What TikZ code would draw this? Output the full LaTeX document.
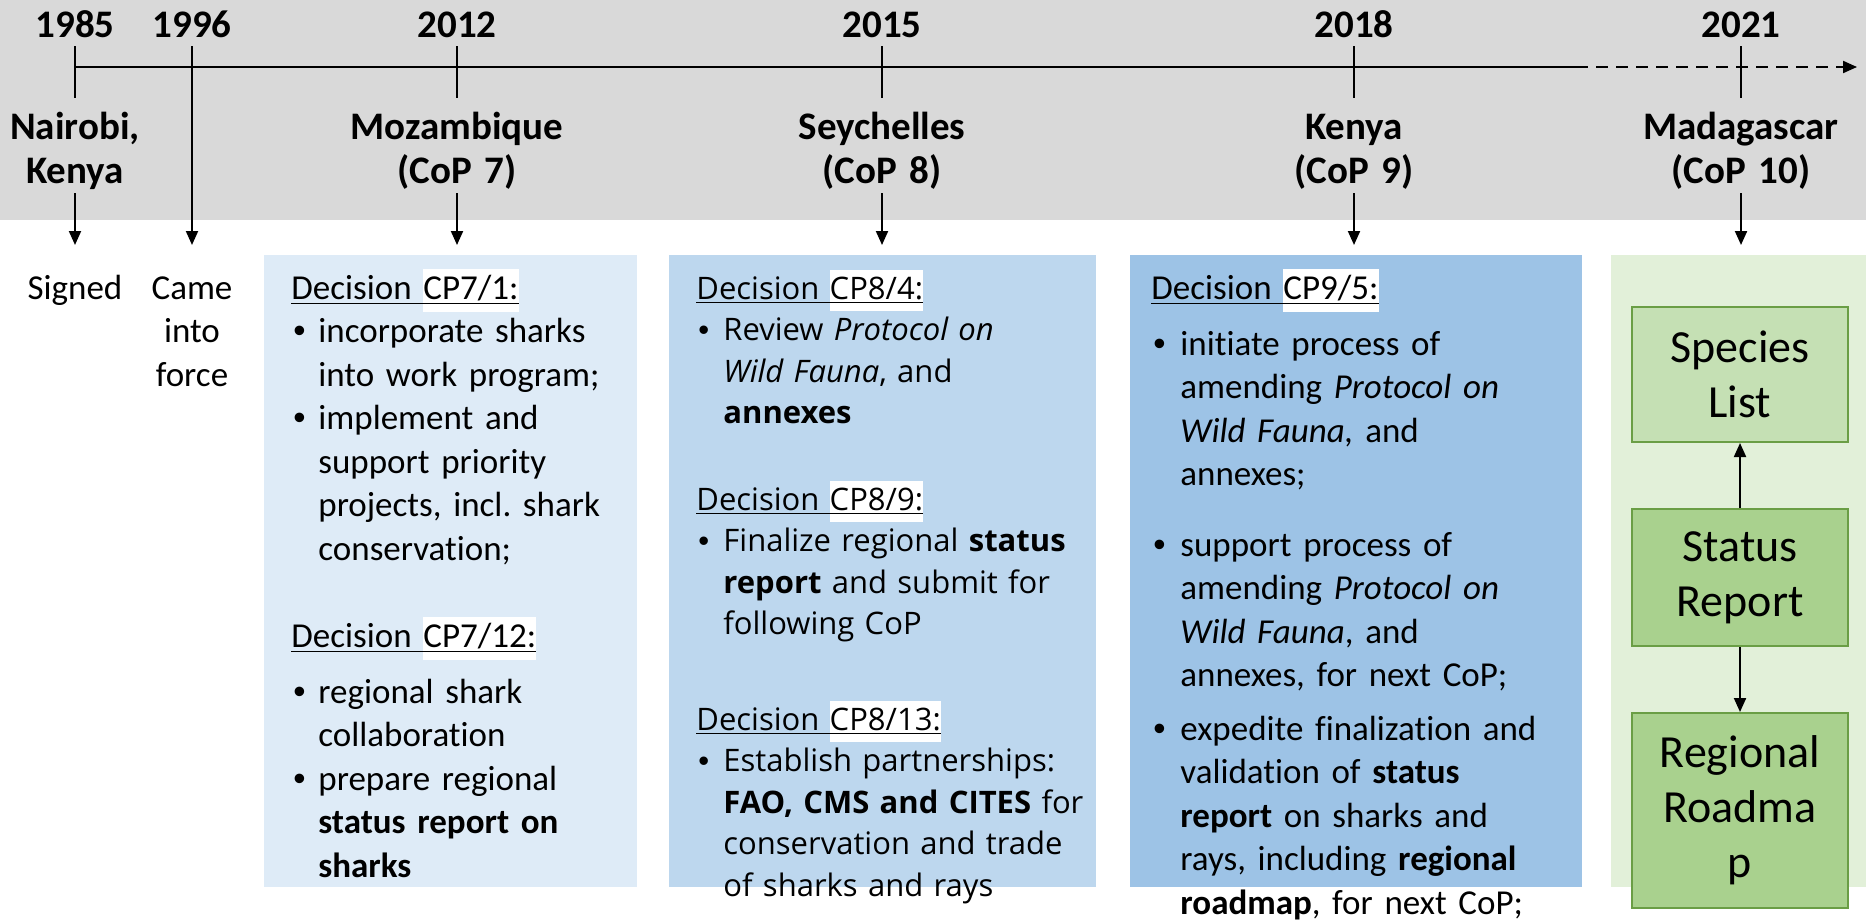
\documentclass[tikz,border=0pt]{standalone}
\usepackage{fontspec}
\setmainfont{Carlito}[Ligatures=NoCommon,Contextuals=NoAlternate]
\newfontfamily\opensans{Open Sans}
\newfontfamily\arial{Liberation Sans}
\usepackage{xcolor}
\usetikzlibrary{arrows.meta}

\definecolor{band}{HTML}{D9D9D9}
\definecolor{blueA}{HTML}{DEEBF7}
\definecolor{blueB}{HTML}{BDD7EE}
\definecolor{blueC}{HTML}{9DC3E6}
\definecolor{greenbg}{HTML}{E2F0D9}
\definecolor{greenA}{HTML}{C5E0B4}
\definecolor{greenB}{HTML}{A9D18E}
\definecolor{greenline}{HTML}{6A9E45}

% bullet with hanging indent, and the underlined decision heading
\newlength{\bulind}
\newcommand{\bul}{\hangindent=\bulind\hangafter=1\noindent\makebox[\bulind][l]{\hspace{1pt}{\arial\textbullet}}}
\newcommand{\decis}[1]{\makebox[0pt][l]{\phantom{Decision }{\setlength{\fboxsep}{0pt}\colorbox{white}{\strut\phantom{#1}}}}\underline{Decision #1}}
\frenchspacing

\begin{document}
\begin{tikzpicture}[x=0.5pt,y=-0.5pt,
    year/.style={font=\fontsize{19.5pt}{22pt}\selectfont\bfseries,anchor=base,inner sep=0},
    place/.style={year,text width=140pt,align=center},
    body/.style={font=\fontsize{17.5pt}{21.75pt}\selectfont,inner sep=0},
    dec/.style={body,anchor=base west,text width=220pt,align=left},
    flow/.style={draw=greenline,line width=1pt,minimum width=108pt,text width=100pt,
      align=center,inner sep=0,font=\fontsize{23pt}{27.5pt}\selectfont},
    link/.style={line width=1pt,-{Triangle[width=6pt,length=7pt]}}]
  \useasboundingbox (0,0) rectangle (1866,921);

  % grey band and time axis
  \fill[band] (0,0) rectangle (1866,220);
  \coordinate (t0) at (75,67);
  \coordinate (tdash) at (1576,67);
  \coordinate (tend) at (1857,67);
  \draw[line width=1pt] (t0) -- (tdash);
  \draw[link,dash pattern=on 6pt off 4pt] (tdash) -- (tend);

  \foreach \n/\x/\yr in {85/75/1985, 12/457/2012, 15/882/2015, 18/1354/2018, 21/1741/2021}{
    \node[year] (y\n) at (\x,37) {\yr};
    \draw[line width=0.75pt] (\x,46) -- (\x,98);
    \coordinate (a\n) at (\x,193);
    \coordinate (b\n) at (\x,245);
    \draw[link] (a\n) -- (b\n);
  }
  \node[year] (y96) at (192,37) {1996};
  \coordinate (a96) at (192,46);
  \coordinate (b96) at (192,245);
  \draw[link] (a96) -- (b96);

  \node[place] (p85) at (75,139) {Nairobi,\\Kenya};
  \node[place] (p12) at (457,139) {Mozambique\\(CoP 7)};
  \node[place] (p15) at (882,139) {Seychelles\\(CoP 8)};
  \node[place] (p18) at (1354,139) {Kenya\\(CoP 9)};
  \node[place] (p21) at (1741,139) {Madagascar\\(CoP 10)};

  % coloured panels
  \fill[blueA] (264,255) rectangle (637,887);
  \fill[blueB] (669,255) rectangle (1096,887);
  \fill[blueC] (1130,255) rectangle (1582,887);
  \fill[greenbg] (1611,255) rectangle (1866,887);

  \node[body,anchor=base,text width=60pt,align=center] (signed) at (75,299) {Signed};
  \node[body,anchor=base,text width=60pt,align=center] (force) at (192,299) {Came\\into\\force};

  \node[dec] (cp7) at (291,299) {\setlength{\bulind}{13.5pt}%
    \decis{CP7/1:}\par
    \bul incorporate sharks\newline into work program;\par
    \bul implement and\newline support priority\newline projects, incl. shark\newline conservation;\par
    \vspace{21.75pt}
    \decis{CP7/12:}\par
    \vspace{6.25pt}
    \bul regional shark\newline collaboration\par
    \bul prepare regional\newline \textbf{status report on}\newline \textbf{sharks}\par};

  \node[dec,font=\opensans\fontsize{15.5pt}{20.75pt}\selectfont] (cp8) at (696,299) {\setlength{\bulind}{13.5pt}%
    \decis{CP8/4:}\par
    \bul Review \textit{Protocol on}\newline \textit{Wild Fauna}, and\newline \textbf{annexes}\par
    \vspace{22.5pt}
    \decis{CP8/9:}\par
    \bul Finalize regional \textbf{status}\newline \textbf{report} and submit for\newline following CoP\par
    \vspace{27pt}
    \decis{CP8/13:}\par
    \bul Establish partnerships:\newline \textbf{FAO, CMS and CITES} for\newline conservation and trade\newline of sharks and rays\par};

  \node[dec] (cp9) at (1151,299) {\setlength{\bulind}{14.5pt}%
    \decis{CP9/5:}\par
    \vspace{6.25pt}
    \bul initiate process of\newline amending \textit{Protocol on}\newline \textit{Wild Fauna,} and\newline annexes;\par
    \vspace{13.5pt}
    \bul support process of\newline amending \textit{Protocol on}\newline \textit{Wild Fauna}, and\newline annexes, for next CoP;\par
    \vspace{5pt}
    \bul expedite finalization and\newline validation of \textbf{status}\newline \textbf{report} on sharks and\newline rays, including \textbf{regional}\newline \textbf{roadmap}, for next CoP;\par};

  % outputs for CoP 10
  \node[flow,fill=greenA,minimum height=67.5pt] (list) at (1740,374.5) {Species\\List};
  \node[flow,fill=greenB,minimum height=68.5pt] (report) at (1740,577.5) {Status\\Report};
  \node[flow,fill=greenB,minimum height=97.5pt] (roadmap) at (1740,810.5) {Regional\\Roadma\\p};
  \draw[link] (report) -- (list);
  \draw[link] (report) -- (roadmap);
\end{tikzpicture}
\end{document}
